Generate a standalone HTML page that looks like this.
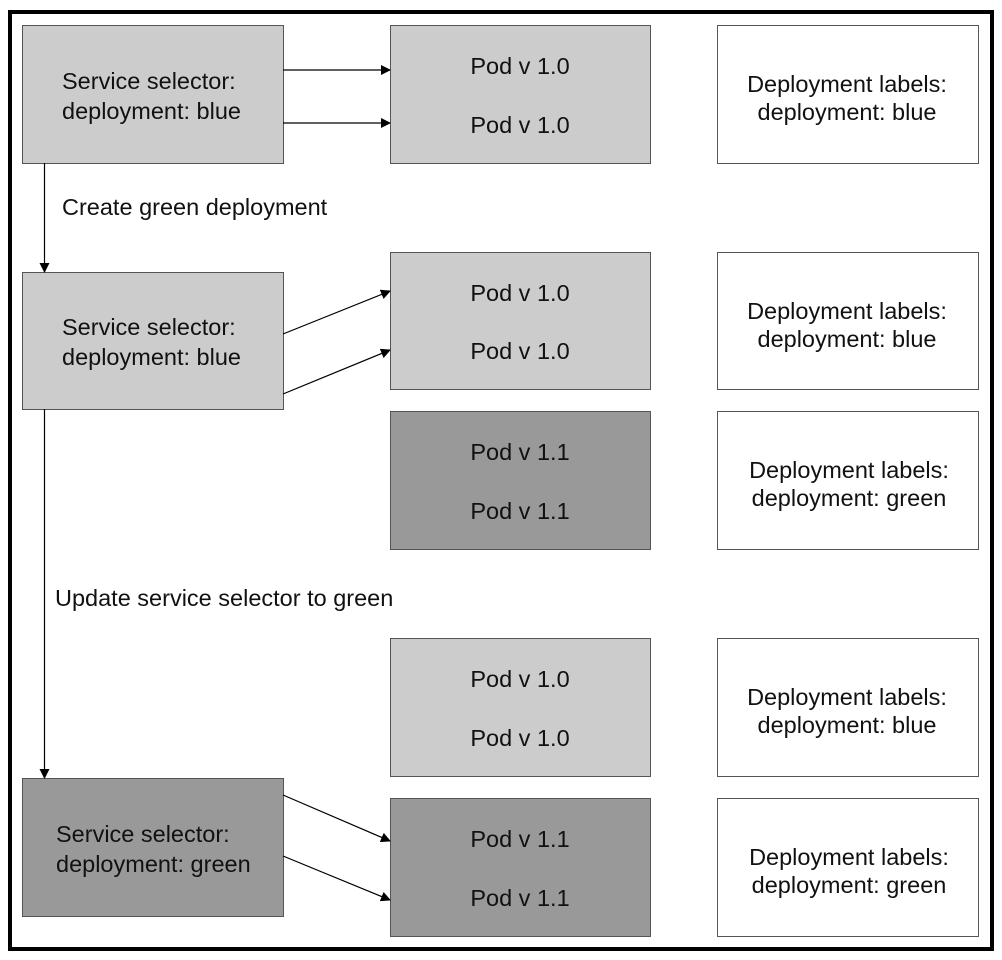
<!DOCTYPE html>
<html><head><meta charset="utf-8"><style>
html,body{margin:0;padding:0;background:#fff;}
svg{display:block;}
text{font-family:"Liberation Sans",sans-serif;font-size:23.5px;fill:#111;}
</style></head><body>
<svg width="1002" height="960" viewBox="0 0 1002 960">
<defs><marker id="a" markerWidth="10" markerHeight="10" refX="9" refY="5" orient="auto" markerUnits="userSpaceOnUse"><path d="M0,0 L10,5 L0,10 z" fill="#000"/></marker></defs>
<rect x="10" y="12" width="982" height="937" fill="none" stroke="#000" stroke-width="4"/>
<g stroke="#555" stroke-width="1">
<rect x="22.5" y="25.5" width="261" height="138" fill="#cccccc"/>
<rect x="22.5" y="272.5" width="261" height="137" fill="#cccccc"/>
<rect x="22.5" y="778.5" width="261" height="138" fill="#999999"/>
<rect x="390.5" y="25.5" width="260" height="138" fill="#cccccc"/>
<rect x="390.5" y="252.5" width="260" height="137" fill="#cccccc"/>
<rect x="390.5" y="411.5" width="260" height="138" fill="#999999"/>
<rect x="390.5" y="638.5" width="260" height="138" fill="#cccccc"/>
<rect x="390.5" y="798.5" width="260" height="138" fill="#999999"/>
<rect x="717.5" y="25.5" width="261" height="138" fill="#fff"/>
<rect x="717.5" y="252.5" width="261" height="137" fill="#fff"/>
<rect x="717.5" y="411.5" width="261" height="138" fill="#fff"/>
<rect x="717.5" y="638.5" width="261" height="138" fill="#fff"/>
<rect x="717.5" y="798.5" width="261" height="138" fill="#fff"/>
</g>
<g stroke="#000" stroke-width="1.2" fill="none" marker-end="url(#a)">
<line x1="283" y1="70" x2="390" y2="70"/>
<line x1="283" y1="123" x2="390" y2="123"/>
<line x1="283" y1="334" x2="390" y2="291"/>
<line x1="283" y1="394" x2="390" y2="350"/>
<line x1="283" y1="795" x2="390" y2="841"/>
<line x1="283" y1="856" x2="390" y2="900"/>
<line x1="44.5" y1="163" x2="44.5" y2="272"/>
<line x1="44.5" y1="409" x2="44.5" y2="778"/>
</g>
<text x="62" y="89">Service selector:</text>
<text x="62" y="119">deployment: blue</text>
<text x="62" y="335">Service selector:</text>
<text x="62" y="365">deployment: blue</text>
<text x="56" y="842">Service selector:</text>
<text x="56" y="872">deployment: green</text>
<text x="62" y="215">Create green deployment</text>
<text x="55" y="606">Update service selector to green</text>
<g text-anchor="middle">
<text x="520" y="74">Pod v 1.0</text><text x="520" y="133">Pod v 1.0</text>
<text x="520" y="301">Pod v 1.0</text><text x="520" y="359">Pod v 1.0</text>
<text x="520" y="460">Pod v 1.1</text><text x="520" y="519">Pod v 1.1</text>
<text x="520" y="687">Pod v 1.0</text><text x="520" y="746">Pod v 1.0</text>
<text x="520" y="847">Pod v 1.1</text><text x="520" y="906">Pod v 1.1</text>
<text x="847" y="92">Deployment labels:</text><text x="847" y="120">deployment: blue</text>
<text x="847" y="319">Deployment labels:</text><text x="847" y="347">deployment: blue</text>
<text x="849" y="478">Deployment labels:</text><text x="849" y="506">deployment: green</text>
<text x="847" y="705">Deployment labels:</text><text x="847" y="733">deployment: blue</text>
<text x="849" y="865">Deployment labels:</text><text x="849" y="893">deployment: green</text>
</g>
</svg>
</body></html>
